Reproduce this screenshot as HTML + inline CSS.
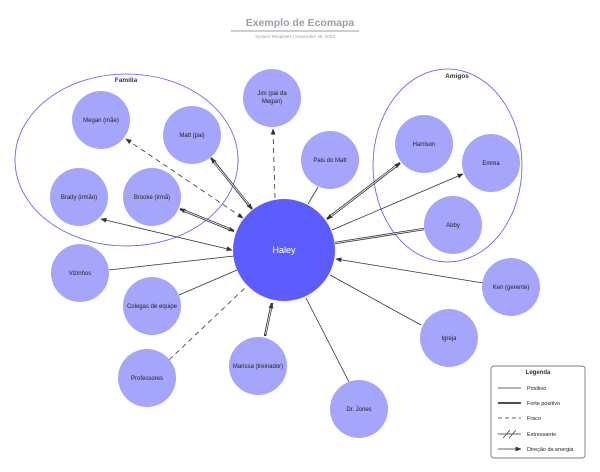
<!DOCTYPE html>
<html><head><meta charset="utf-8"><style>
html,body{margin:0;padding:0;background:#fff;}
svg{display:block;font-family:"Liberation Sans",sans-serif;}
</style></head><body>
<svg width="600" height="472" viewBox="0 0 600 472" xmlns="http://www.w3.org/2000/svg">
<defs>
<marker id="a" viewBox="0 0 10 10" refX="9" refY="5" markerWidth="7" markerHeight="6" markerUnits="userSpaceOnUse" orient="auto-start-reverse"><path d="M0,1 L10,5 L0,9 z" fill="#333"/></marker>
</defs>
<text x="300" y="26" text-anchor="middle" font-size="10.5" font-weight="bold" fill="#9a9ea6">Exemplo de Ecomapa</text>
<line x1="231" y1="31" x2="359" y2="31" stroke="#9a9ea6" stroke-width="1"/>
<text x="295" y="38" text-anchor="middle" font-size="4.5" fill="#9a9ea6">System Templates  |  November 26, 2023</text>

<ellipse cx="126.5" cy="160" rx="111.5" ry="86" fill="none" stroke="#5a5af0" stroke-width="0.8"/>
<text x="126" y="82" text-anchor="middle" font-size="6.5" font-weight="bold" fill="#333">Família</text>
<ellipse cx="447.5" cy="165.5" rx="74.5" ry="96.5" fill="none" stroke="#5a5af0" stroke-width="0.8"/>
<text x="457" y="78" text-anchor="middle" font-size="6.5" font-weight="bold" fill="#333">Amigos</text>

<g stroke="#333" stroke-width="0.8" fill="none">
<line x1="126" y1="139" x2="243" y2="218" stroke-dasharray="5,4" marker-start="url(#a)" marker-end="url(#a)"/>
<line x1="275" y1="198" x2="273" y2="129" stroke-dasharray="5,4" marker-end="url(#a)"/>
<line x1="101" y1="219" x2="232" y2="250" marker-start="url(#a)" marker-end="url(#a)"/>
<line x1="109" y1="270" x2="234" y2="256"/>
<line x1="179" y1="295" x2="237" y2="270"/>
<line x1="169" y1="360" x2="247" y2="286" stroke-dasharray="5,4"/>
<line x1="308" y1="204" x2="318" y2="187"/>
<line x1="332" y1="230" x2="463" y2="174" marker-end="url(#a)"/>
<line x1="483" y1="283" x2="336" y2="259" marker-end="url(#a)"/>
<line x1="330" y1="275" x2="421" y2="325"/>
<line x1="306" y1="298" x2="349" y2="382"/>
</g>
<g stroke="#333" stroke-width="2.4" fill="none" marker-start="url(#a)" marker-end="url(#a)">
<line x1="211" y1="158" x2="252" y2="209"/>
<line x1="180" y1="209" x2="234" y2="231"/>
<line x1="400" y1="163" x2="327" y2="219"/>
</g>
<g stroke="#333" stroke-width="2.4" fill="none">
<line x1="335" y1="243" x2="424" y2="229"/>
<line x1="265" y1="336" x2="272" y2="303" marker-end="url(#a)"/>
</g>
<g stroke="#fff" stroke-width="0.8" fill="none">
<line x1="214" y1="162" x2="249" y2="205"/>
<line x1="184" y1="210.6" x2="230" y2="229.4"/>
<line x1="396" y1="166" x2="331" y2="216"/>
<line x1="335" y1="243" x2="424" y2="229"/>
<line x1="265.5" y1="334" x2="271" y2="308"/>
</g>

<g fill="#a5a5fb">
<circle cx="101" cy="120" r="29"/>
<circle cx="192" cy="135" r="29"/>
<circle cx="79" cy="197" r="29"/>
<circle cx="152" cy="197" r="29"/>
<circle cx="272" cy="98" r="29"/>
<circle cx="330" cy="160" r="29"/>
<circle cx="424" cy="144" r="29"/>
<circle cx="491" cy="163" r="29"/>
<circle cx="453" cy="225" r="29"/>
<circle cx="511" cy="287" r="29"/>
<circle cx="449" cy="338" r="29"/>
<circle cx="359" cy="409" r="29"/>
<circle cx="258" cy="366" r="29"/>
<circle cx="147" cy="378" r="29"/>
<circle cx="152" cy="306" r="29"/>
<circle cx="80" cy="273" r="29"/>
</g>
<circle cx="284" cy="250" r="51" fill="#5c5cff"/>
<text x="284" y="253" text-anchor="middle" font-size="9" fill="#fff">Haley</text>

<g font-size="6" fill="#222" text-anchor="middle">
<text x="101" y="122">Megan (mãe)</text>
<text x="192" y="137">Matt (pai)</text>
<text x="79" y="199">Brady (irmão)</text>
<text x="152" y="199">Brooke (irmã)</text>
<text x="272" y="95">Jim (pai da</text>
<text x="272" y="103">Megan)</text>
<text x="330" y="162">Pais do Matt</text>
<text x="424" y="146">Harrison</text>
<text x="491" y="165">Emma</text>
<text x="453" y="227">Abby</text>
<text x="511" y="289">Ken (gerente)</text>
<text x="449" y="340">Igreja</text>
<text x="359" y="411">Dr. Jones</text>
<text x="258" y="368">Marissa (treinador)</text>
<text x="147" y="380">Professores</text>
<text x="152" y="308">Colegas de equipe</text>
<text x="80" y="275">Vizinhos</text>
</g>

<rect x="491" y="366" width="94" height="92" rx="3" fill="#fff" stroke="#555" stroke-width="0.7"/>
<text x="538" y="374" text-anchor="middle" font-size="6" font-weight="bold" fill="#333">Legenda</text>
<g stroke="#333" fill="none">
<line x1="498" y1="388" x2="521" y2="388" stroke-width="0.8"/>
<line x1="498" y1="403" x2="521" y2="403" stroke-width="1.8"/>
<line x1="498" y1="418" x2="521" y2="418" stroke-width="0.8" stroke-dasharray="4,3"/>
<line x1="498" y1="434" x2="521" y2="434" stroke-width="0.8"/>
<line x1="503" y1="438" x2="510" y2="430" stroke-width="0.7"/>
<line x1="509" y1="438" x2="516" y2="430" stroke-width="0.7"/>
<line x1="498" y1="449" x2="521" y2="449" stroke-width="0.8" marker-end="url(#a)"/>
</g>
<g font-size="5.5" fill="#222">
<text x="527" y="390">Positivo</text>
<text x="527" y="405">Forte positivo</text>
<text x="527" y="420">Fraco</text>
<text x="527" y="436">Estressante</text>
<text x="527" y="451">Direção da energia</text>
</g>
</svg>
</body></html>
